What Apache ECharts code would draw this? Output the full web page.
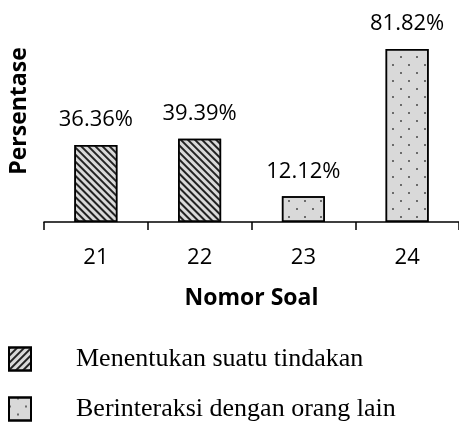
<!DOCTYPE html>
<html>
<head>
<meta charset="utf-8">
<script src="https://cdn.jsdelivr.net/npm/echarts@6/dist/echarts.min.js"></script>
<style>
  html, body { margin: 0; padding: 0; background: #fff; }
  #chart { width: 459px; height: 423px; }
</style>
</head>
<body>
<div id="chart"></div>
<script>
var categories = ['21', '22', '23', '24'];
var seriesNames = ['Menentukan suatu tindakan', 'Berinteraksi dengan orang lain'];
var menentukanVals = [36.36, 39.39, '-', '-'];
var berinteraksiVals = ['-', '-', 12.12, 81.82];

var hatch = {
    symbol: 'rect',
    symbolSize: 1,
    color: '#222',
    dashArrayX: [1, 0],
    dashArrayY: [2, 3],
    rotation: Math.PI / 4
};
var hatchLegend = {
    symbol: 'rect',
    symbolSize: 1,
    color: '#222',
    dashArrayX: [1, 0],
    dashArrayY: [2, 3],
    rotation: -Math.PI / 4
};
var dots = {
    symbol: 'rect',
    symbolSize: 0.8,
    color: '#222',
    dashArrayX: [[2, 14], [0, 8, 2, 6]],
    dashArrayY: [2, 6],
    rotation: 0
};

var chart = echarts.init(document.getElementById('chart'), null, { renderer: 'canvas' });

var labelStyle = {
    show: true,
    position: 'top',
    distance: 14,
    color: '#000',
    fontFamily: 'Open Sans',
    fontSize: 22,
    formatter: function(p) { return p.value.toFixed(2) + '%'; }
};

// one legend box per entry, stacked by hand
function legendBox(top, item) {
    return {
        orient: 'vertical',
        left: 3,
        top: top,
        icon: 'rect',
        itemWidth: 22,
        itemHeight: 23,
        textStyle: {
            fontFamily: 'Liberation Serif',
            fontSize: 26,
            lineHeight: 26,
            color: '#000',
            padding: [0, 0, 0, 40]
        },
        data: [item]
    };
}

var option = {
    animation: false,
    grid: {
        left: 42,
        width: 419,
        top: 0,
        bottom: 201
    },
    xAxis: {
        type: 'category',
        data: categories,
        name: 'Nomor Soal',
        nameLocation: 'middle',
        nameGap: 65,
        nameTextStyle: { fontFamily: 'Open Sans', fontWeight: 'bold', fontSize: 23, color: '#000' },
        axisLine: { lineStyle: { color: '#000', width: 1.5 } },
        axisTick: { show: true, length: 8, lineStyle: { color: '#000', width: 1.5 } },
        axisLabel: { margin: 25, fontFamily: 'Open Sans', fontSize: 22, color: '#000' }
    },
    yAxis: {
        type: 'value',
        min: 0,
        max: 105,
        name: 'Persentase',
        nameLocation: 'middle',
        nameGap: 13,
        nameRotate: 90,
        nameTextStyle: { fontFamily: 'Open Sans', fontWeight: 'bold', fontSize: 23, color: '#000' },
        axisLine: { show: false },
        axisTick: { show: false },
        axisLabel: { show: false },
        splitLine: { show: false }
    },
    legend: [
        legendBox(341, { name: seriesNames[0], itemStyle: { decal: hatchLegend } }),
        legendBox(391, { name: seriesNames[1] })
    ],
    series: [
        {
            name: seriesNames[0],
            type: 'bar',
            stack: 'all',
            barWidth: 43,
            data: menentukanVals,
            itemStyle: { color: '#d9d9d9', borderColor: '#000', borderWidth: 1.5, decal: hatch },
            label: labelStyle
        },
        {
            name: seriesNames[1],
            type: 'bar',
            stack: 'all',
            barWidth: 43,
            data: berinteraksiVals,
            itemStyle: { color: '#d9d9d9', borderColor: '#000', borderWidth: 1.5, decal: dots },
            label: labelStyle
        }
    ]
};
chart.setOption(option);
</script>
</body>
</html>
